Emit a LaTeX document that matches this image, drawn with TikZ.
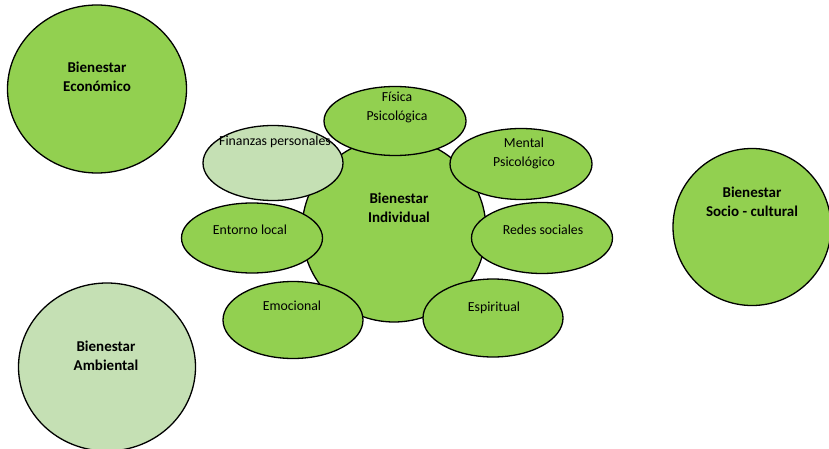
\documentclass[tikz,border=0pt]{standalone}
\usepackage{fontspec}
\setmainfont{Carlito}
\usetikzlibrary{shapes.geometric}
\definecolor{verde}{HTML}{92D050}
\definecolor{verdeclaro}{HTML}{C5E0B4}

\begin{document}
\begin{tikzpicture}[x=1pt,y=-1pt,
    circulo/.style={shape=ellipse, draw=black, line width=1.3pt, fill=verde, inner sep=0pt},
    claro/.style={fill=verdeclaro},
    titulo/.style={font=\bfseries\fontsize{15}{19.5}\selectfont, align=center, inner sep=0pt},
    texto/.style={font=\fontsize{13.8}{19}\selectfont, align=center, inner sep=0pt}]
    \useasboundingbox (0,0) rectangle (829,449);
    \clip (0,0) rectangle (829,449);
    % large circles
    \node[circulo, minimum width=179pt, minimum height=168pt](economico) at (97,89) {};
    \node[circulo, claro, minimum width=177pt, minimum height=168pt](ambiental) at (107,367) {};
    \node[circulo, minimum width=158pt, minimum height=157pt](socio) at (752,227) {};
    \node[circulo, minimum width=184pt, minimum height=184pt](individual) at (394,230) {};
    % satellites
    \node[circulo, minimum width=142pt, minimum height=69pt](fisica) at (395,121) {};
    \node[circulo, claro, minimum width=140pt, minimum height=75pt](finanzas) at (273,163) {};
    \node[circulo, minimum width=142pt, minimum height=71pt](mental) at (521,164) {};
    \node[circulo, minimum width=141pt, minimum height=71pt](redes) at (542,238) {};
    \node[circulo, minimum width=141pt, minimum height=70pt](entorno) at (252,238) {};
    \node[circulo, minimum width=140pt, minimum height=77pt](emocional) at (293,320) {};
    \node[circulo, minimum width=140pt, minimum height=78pt](espiritual) at (493,318) {};
    % texts
    \node[titulo](t-economico) at (97,77) {Bienestar\\Económico};
    \node[titulo](t-ambiental) at (106,356) {Bienestar\\Ambiental};
    \node[titulo](t-socio) at (752,202) {Bienestar\\Socio - cultural};
    \node[titulo](t-individual) at (399,208) {Bienestar\\Individual};
    \node[texto](t-fisica) at (397,107) {Física\\Psicológica};
    \node[texto](t-finanzas) at (275,142) {Finanzas personales};
    \node[texto](t-mental) at (524,153) {Mental\\Psicológico};
    \node[texto](t-redes) at (543,230) {Redes sociales};
    \node[texto](t-entorno) at (250,230) {Entorno local};
    \node[texto](t-emocional) at (292,306) {Emocional};
    \node[texto](t-espiritual) at (494,308) {Espiritual};
\end{tikzpicture}
\end{document}
